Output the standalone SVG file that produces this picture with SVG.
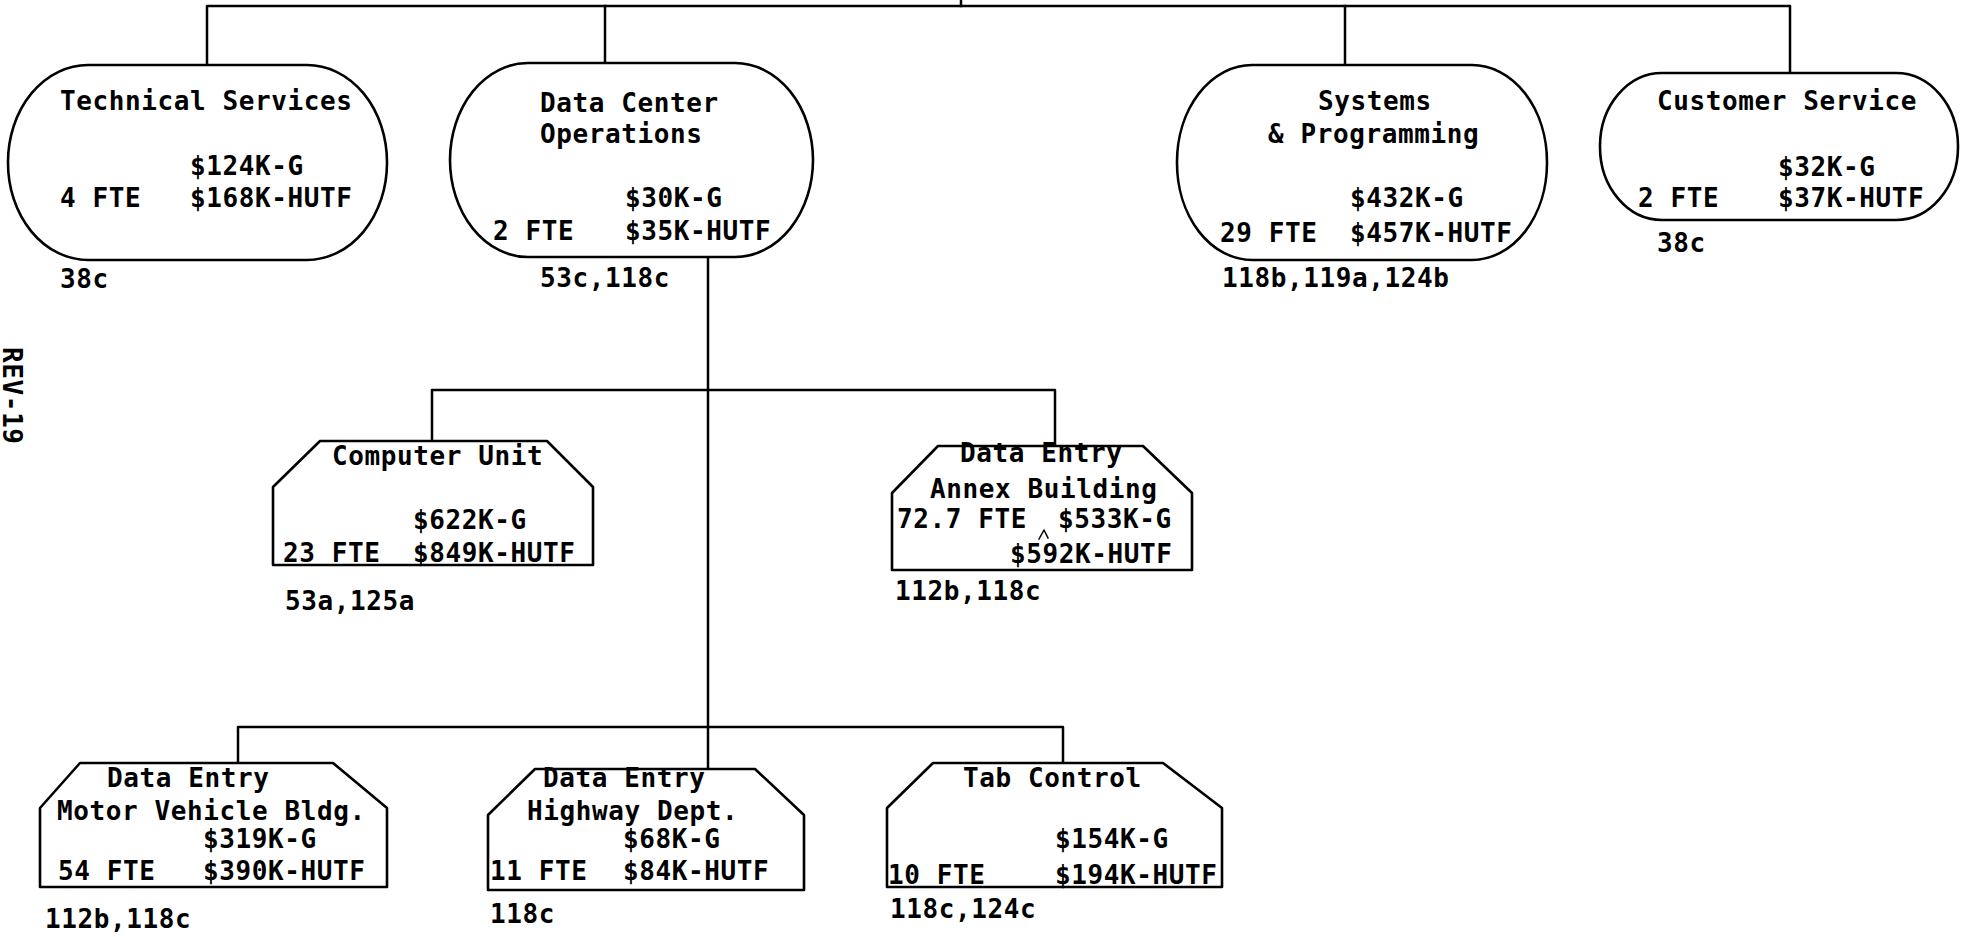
<svg xmlns="http://www.w3.org/2000/svg" width="1963" height="937" viewBox="0 0 1963 937">
<style>
  .bg { fill: #ffffff; }
  .ln { fill: none; stroke: #000; stroke-width: 2.5; stroke-linejoin: round; stroke-linecap: square; }
  .shape { fill: #fff; stroke: #000; stroke-width: 2.6; stroke-linejoin: round; }
  text { font-family: "DejaVu Sans Mono", "Liberation Mono", monospace; font-size: 26px; font-weight: bold; letter-spacing: 0.6px; fill: #000; }
</style>
<rect class="bg" x="0" y="0" width="1963" height="937"/>

<g id="connectors">
  <path class="ln" d="M961,0 V6"/>
  <path class="ln" d="M207,65 V6 H1790 V73"/>
  <path class="ln" d="M605,6 V63"/>
  <path class="ln" d="M1345,6 V65"/>
  <path class="ln" d="M708,257 V769"/>
  <path class="ln" d="M432,441 V390 H1055 V446"/>
  <path class="ln" d="M238,763 V727 H1063 V763"/>
</g>

<g id="technical-services">
  <rect class="shape" x="8" y="65" width="379" height="195" rx="80" ry="97"/>
  <text x="60" y="110">Technical Services</text>
  <text x="190" y="175">$124K-G</text>
  <text x="60" y="207">4 FTE</text>
  <text x="190" y="207">$168K-HUTF</text>
  <text x="60" y="288">38c</text>
</g>

<g id="data-center-operations">
  <rect class="shape" x="450" y="63" width="363" height="194" rx="78" ry="97"/>
  <text x="540" y="112">Data Center</text>
  <text x="540" y="143">Operations</text>
  <text x="625" y="207">$30K-G</text>
  <text x="493" y="240">2 FTE</text>
  <text x="625" y="240">$35K-HUTF</text>
  <text x="540" y="287">53c,118c</text>
</g>

<g id="systems-programming">
  <rect class="shape" x="1177" y="65" width="370" height="195" rx="75" ry="97"/>
  <text x="1318" y="110">Systems</text>
  <text x="1268" y="143">&amp; Programming</text>
  <text x="1350" y="207">$432K-G</text>
  <text x="1220" y="242">29 FTE</text>
  <text x="1350" y="242">$457K-HUTF</text>
  <text x="1222" y="287">118b,119a,124b</text>
</g>

<g id="customer-service">
  <rect class="shape" x="1600" y="73" width="358" height="147" rx="62" ry="73"/>
  <text x="1657" y="110">Customer Service</text>
  <text x="1778" y="176">$32K-G</text>
  <text x="1638" y="207">2 FTE</text>
  <text x="1778" y="207">$37K-HUTF</text>
  <text x="1657" y="252">38c</text>
</g>

<g id="computer-unit">
  <path class="shape" d="M320,441 L547,441 L593,487 L593,565 L273,565 L273,487 Z"/>
  <text x="332" y="465">Computer Unit</text>
  <text x="413" y="529">$622K-G</text>
  <text x="283" y="562">23 FTE</text>
  <text x="413" y="562">$849K-HUTF</text>
  <text x="285" y="610">53a,125a</text>
</g>

<g id="data-entry-annex">
  <path class="shape" d="M938,446 L1143,446 L1192,493 L1192,570 L892,570 L892,493 Z"/>
  <text x="960" y="462">Data Entry</text>
  <text x="930" y="498">Annex Building</text>
  <text x="897" y="528">72.7 FTE</text>
  <text x="1058" y="528">$533K-G</text>
  <text x="1010" y="563">$592K-HUTF</text>
  <path class="ln" style="stroke-width:1.5" d="M1039,539 L1044,530 L1048,538"/>
  <text x="895" y="600">112b,118c</text>
</g>

<g id="data-entry-motor-vehicle">
  <path class="shape" d="M80,763 L333,763 L387,808 L387,887 L40,887 L40,808 Z"/>
  <text x="107" y="787">Data Entry</text>
  <text x="57" y="820">Motor Vehicle Bldg.</text>
  <text x="203" y="848">$319K-G</text>
  <text x="58" y="880">54 FTE</text>
  <text x="203" y="880">$390K-HUTF</text>
  <text x="45" y="928">112b,118c</text>
</g>

<g id="data-entry-highway">
  <path class="shape" d="M535,769 L755,769 L804,815 L804,890 L488,890 L488,815 Z"/>
  <text x="543" y="787">Data Entry</text>
  <text x="527" y="820">Highway Dept.</text>
  <text x="623" y="848">$68K-G</text>
  <text x="490" y="880">11 FTE</text>
  <text x="623" y="880">$84K-HUTF</text>
  <text x="490" y="923">118c</text>
</g>

<g id="tab-control">
  <path class="shape" d="M933,763 L1163,763 L1222,808 L1222,887 L887,887 L887,808 Z"/>
  <text x="963" y="787">Tab Control</text>
  <text x="1055" y="848">$154K-G</text>
  <text x="888" y="884">10 FTE</text>
  <text x="1055" y="884">$194K-HUTF</text>
  <text x="890" y="918">118c,124c</text>
</g>

<text transform="translate(3,347) rotate(90)">REV-19</text>
</svg>
